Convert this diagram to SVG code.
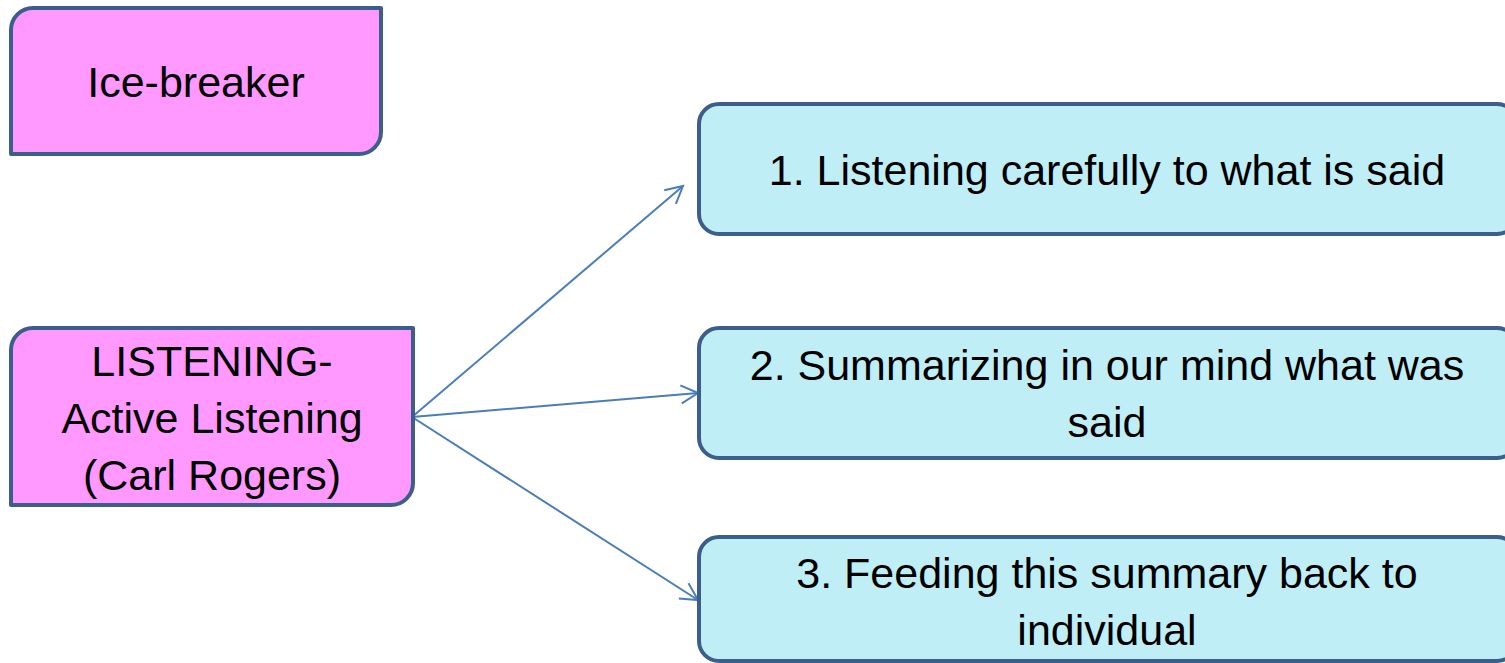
<svg xmlns="http://www.w3.org/2000/svg" width="1505" height="663" viewBox="0 0 1505 663">
<style>
.pink{fill:#ff99ff;stroke:#3b5f8a;stroke-width:4;stroke-linejoin:round}
.blue{fill:#bfeef6;stroke:#3b5f8a;stroke-width:4}
.t{font-family:"Liberation Sans",Arial,sans-serif;font-size:43px;fill:#000;text-anchor:middle}
.c{stroke:#4a7ebb;stroke-width:2;fill:none}
</style>
<defs>
<marker id="ah" markerUnits="userSpaceOnUse" markerWidth="24" markerHeight="24" refX="19" refY="12" orient="auto">
<path d="M2,3 L19,12 L2,21" fill="none" stroke="#4a7ebb" stroke-width="2"/>
</marker>
</defs>
<g id="connectors">
<line class="c" x1="412" y1="417" x2="683" y2="186" marker-end="url(#ah)"/>
<line class="c" x1="412" y1="417" x2="698" y2="393" marker-end="url(#ah)"/>
<line class="c" x1="412" y1="417" x2="698" y2="600" marker-end="url(#ah)"/>
</g>
<g id="icebreaker">
<path class="pink" d="M11,30 A22,22 0 0 1 33,8 L381,8 L381,132 A22,22 0 0 1 359,154 L11,154 Z"/>
<text class="t" x="196" y="97">Ice-breaker</text>
</g>
<g id="listening">
<path class="pink" d="M11,350 A22,22 0 0 1 33,328 L413,328 L413,483 A22,22 0 0 1 391,505 L11,505 Z"/>
<text class="t" x="212" y="376">LISTENING-</text>
<text class="t" x="212" y="433">Active Listening</text>
<text class="t" x="212" y="490">(Carl Rogers)</text>
</g>
<g id="step1">
<rect class="blue" x="699" y="104" width="818" height="130" rx="20" ry="20"/>
<text class="t" x="1107" y="185">1. Listening carefully to what is said</text>
</g>
<g id="step2">
<rect class="blue" x="699" y="328" width="818" height="130" rx="20" ry="20"/>
<text class="t" x="1107" y="380">2. Summarizing in our mind what was</text>
<text class="t" x="1107" y="437">said</text>
</g>
<g id="step3">
<rect class="blue" x="699" y="537" width="818" height="124" rx="20" ry="20"/>
<text class="t" x="1107" y="588">3. Feeding this summary back to</text>
<text class="t" x="1107" y="645">individual</text>
</g>
</svg>
